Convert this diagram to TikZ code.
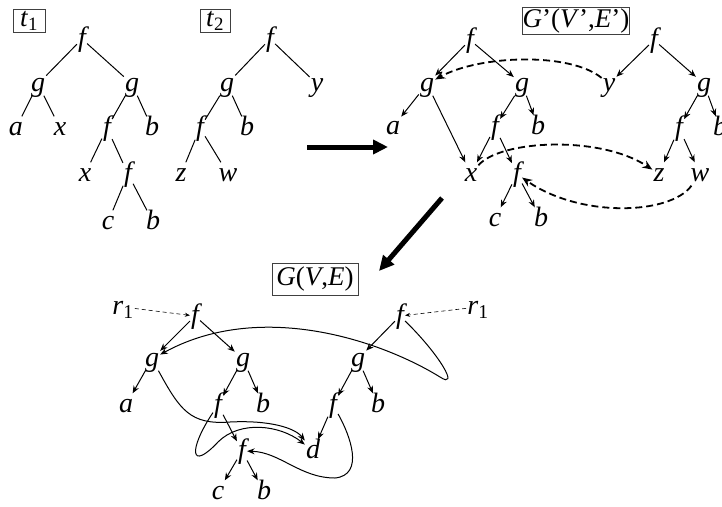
\documentclass[tikz,border=0pt]{standalone}
\usepackage{fontspec}
\setmainfont{Liberation Serif}
\usetikzlibrary{arrows.meta}
\begin{document}
\begin{tikzpicture}[x=1pt,y=-1pt,
  lab/.style={inner sep=1pt, text height=18pt, text depth=3pt, font=\fontsize{28}{30}\selectfont\itshape},
  tag/.style={draw=black!75, line width=0.8pt, inner sep=0pt, font=\fontsize{27}{29}\selectfont},
  tl/.style={line width=1pt},
  ed/.style={line width=1pt, -{Stealth[length=7.5pt,width=6pt]}},
  dsh/.style={line width=1.8pt, dash pattern=on 7pt off 4pt, -{Stealth[length=10pt,width=8pt]}},
  rdsh/.style={line width=0.6pt, dash pattern=on 4pt off 3pt, -{Stealth[length=5pt,width=4pt]}},
  bigarrow/.style={line width=5pt, -{Triangle[length=15pt,width=14pt]}}
]
\useasboundingbox (0,0) rectangle (722,506);

% ---------- t1 ----------
\node[tag, minimum width=32pt, minimum height=23pt] (t1box) at (29,21) {\textit{t}\textsubscript{1}};
\node[lab] (p1) at (82,39) {f};
\node[lab] (p2) at (38,84) {g};
\node[lab] (p3) at (132,84) {g};
\node[lab] (p4) at (16,128) {a};
\node[lab] (p5) at (60,128) {x};
\node[lab] (p6) at (107,128) {f};
\node[lab] (p7) at (152,128) {b};
\node[lab] (p8) at (85,174) {x};
\node[lab] (p9) at (128,174) {f};
\node[lab] (p10) at (108,222) {c};
\node[lab] (p11) at (153,222) {b};
\draw[tl] (p1)--(p2) (p1)--(p3) (p2)--(p4) (p2)--(p5) (p3)--(p6) (p3)--(p7)
          (p6)--(p8) (p6)--(p9) (p9)--(p10) (p9)--(p11);

% ---------- t2 ----------
\node[tag, minimum width=30pt, minimum height=23pt] (t2box) at (215,21) {\textit{t}\textsubscript{2}};
\node[lab] (q1) at (270,39) {f};
\node[lab] (q2) at (227,84) {g};
\node[lab] (q3) at (317,84) {y};
\node[lab] (q4) at (200,128) {f};
\node[lab] (q5) at (247,128) {b};
\node[lab] (q6) at (181,174) {z};
\node[lab] (q7) at (228,174) {w};
\draw[tl] (q1)--(q2) (q1)--(q3) (q2)--(q4) (q2)--(q5) (q4)--(q6) (q4)--(q7);

% ---------- big arrows ----------
\coordinate (ar1) at (307,147);
\coordinate (ar2) at (388,147);
\draw[bigarrow] (ar1) -- (ar2);
\coordinate (ad1) at (442,198);
\coordinate (ad2) at (379,271);
\draw[bigarrow] (ad1) -- (ad2);

% ---------- G' ----------
\node[tag, minimum width=107pt, minimum height=27pt] (gpbox) at (576,21) {\textit{G}’(\textit{V}’,\textit{E}’)};
\node[lab] (u1) at (470,40) {f};
\node[lab] (u2) at (427,84) {g};
\node[lab] (u3) at (522,84) {g};
\node[lab] (u4) at (393,127) {a};
\node[lab] (u5) at (495,127) {f};
\node[lab] (u6) at (538,127) {b};
\node[lab] (u7) at (471,174) {x};
\node[lab] (u8) at (517,174) {f};
\node[lab] (u9) at (495,219) {c};
\node[lab] (u10) at (541,219) {b};
\node[lab] (v1) at (654,40) {f};
\node[lab] (v2) at (609,84) {y};
\node[lab] (v3) at (704,84) {g};
\node[lab] (v4) at (679,128) {f};
\node[lab] (v5) at (720,128) {b};
\node[lab] (v6) at (659,174) {z};
\node[lab] (v7) at (700,174) {w};
\draw[ed] (u1)--(u2);
\draw[ed] (u1)--(u3);
\draw[ed] (u2)--(u4);
\draw[ed] (u2)--(u7);
\draw[ed] (u3)--(u5);
\draw[ed] (u3)--(u6);
\draw[ed] (u5)--(u7);
\draw[ed] (u5)--(u8);
\draw[ed] (u8)--(u9);
\draw[ed] (u8)--(u10);
\draw[ed] (v1)--(v2);
\draw[ed] (v1)--(v3);
\draw[ed] (v3)--(v4);
\draw[ed] (v3)--(v5);
\draw[ed] (v4)--(v6);
\draw[ed] (v4)--(v7);
\draw[dsh] (v2) .. controls (570,52) and (480,55) .. (u2);
\draw[dsh] (u7) .. controls (500,140) and (600,135) .. (v6);
\draw[dsh] (v7) .. controls (670,215) and (580,218) .. (u8);

% ---------- G ----------
\node[tag, minimum width=86pt, minimum height=32pt] (gbox) at (315,279) {\textit{G}(\textit{V},\textit{E})};
\node[lab] (rl) at (123,307) {r\textsubscript{\upshape 1}};
\node[lab] (w1) at (195,316) {f};
\node[lab] (w2) at (152,359) {g};
\node[lab] (w3) at (243,359) {g};
\node[lab] (w4) at (126,405) {a};
\node[lab] (w5) at (218,405) {f};
\node[lab] (w6) at (263,405) {b};
\node[lab] (w7) at (242,451) {f};
\node[lab] (w8) at (218,492) {c};
\node[lab] (w9) at (264,492) {b};
\node[lab] (dd) at (313,451) {d};
\node[lab] (x1) at (400,316) {f};
\node[lab] (rr) at (478,307) {r\textsubscript{\upshape 1}};
\node[lab] (x2) at (358,359) {g};
\node[lab] (x3) at (333,405) {f};
\node[lab] (x4) at (378,405) {b};
\draw[rdsh] (rl)--(w1);
\draw[rdsh] (rr)--(x1);
\draw[ed] (w1)--(w2);
\draw[ed] (w1)--(w3);
\draw[ed] (w2)--(w4);
\draw[ed] (w3)--(w5);
\draw[ed] (w3)--(w6);
\draw[ed] (w5)--(w7);
\draw[ed] (w7)--(w8);
\draw[ed] (w7)--(w9);
\draw[ed] (x1)--(x2);
\draw[ed] (x2)--(x3);
\draw[ed] (x2)--(x4);
\draw[ed] (x3)--(dd);
\draw[ed] (x1) .. controls (440,355) and (460,390) .. (440,377) .. controls (380,340) and (260,300) .. (w2);
\draw[ed] (w2) .. controls (180,410) and (190,425) .. (230,422) .. controls (270,420) and (295,428) .. (dd);
\draw[ed] (w5) .. controls (188,450) and (190,472) .. (218,442) .. controls (240,420) and (280,425) .. (dd);
\draw[ed] (x3) .. controls (350,435) and (365,475) .. (335,478) .. controls (300,478) and (280,452) .. (w7);
\end{tikzpicture}
\end{document}
